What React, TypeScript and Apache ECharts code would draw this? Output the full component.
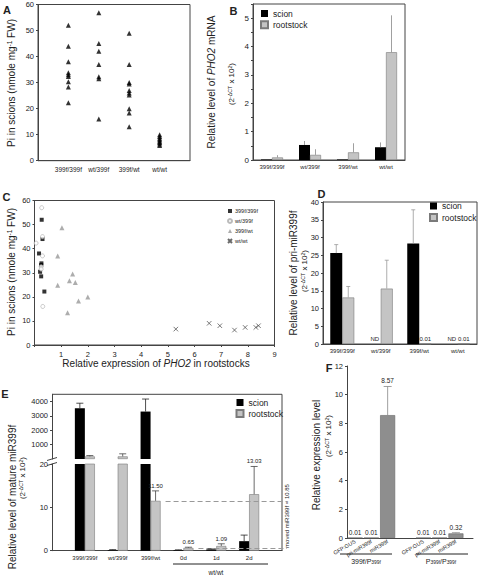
import React, { useEffect, useRef } from 'react';
import * as echarts from 'echarts';

const FONT = '"Liberation Sans", Arial, Helvetica, sans-serif';
const W = 478;
const H = 577;

// ---------- Panel A: Pi in scions ----------
const aGroups = ['399f/399f', 'wt/399f', '399f/wt', 'wt/wt'];
const aPi399f399f = [52, 44, 38, 33.8, 33, 32.3, 30.3, 28.3, 22.3];
const aPiWt399f = [56.8, 45, 42, 37, 32.2, 31.5, 16];
const aPi399fWt = [49, 37, 30, 29.5, 27, 26, 25.2, 20, 18.3, 13];
const aPiWtWt = [10, 9.3, 8.6, 8, 7.5, 7, 6.4, 5.8];

// ---------- Panel B: PHO2 mRNA ----------
const bGroups = ['399f/399f', 'wt/399f', '399f/wt', 'wt/wt'];
const bScion = [0.02, 0.53, 0.02, 0.45];
const bScionErr = [0, 0.14, 0, 0.17];
const bRoot = [0.09, 0.18, 0.27, 3.8];
const bRootErr = [0.08, 0.2, 0.32, 1.3];

// ---------- Panel C: Pi vs PHO2 expression ----------
const cExpr399f399f = [0.27, 0.3, 0.17, 0.26, 0.25, 0.21, 0.25, 0.37];
const cPi399f399f = [52, 44, 38, 33.9, 33.2, 30.4, 28.5, 22.2];
const cExprWt399f = [0.27, 0.3, 0.06, 0.3, 0.25, 0.25, 0.31];
const cPiWt399f = [57, 45, 42.3, 37, 32.5, 31.5, 16];
const cExpr399fWt = [1.03, 0.87, 1.43, 1.31, 1.53, 0.87, 1.65, 2.0, 1.24];
const cPi399fWt = [48.7, 37, 29.5, 26.7, 25.9, 24.8, 18.3, 19.9, 13.4];
const cExprWtWt = [5.3, 6.55, 6.95, 7.5, 7.9, 8.3, 8.4];
const cPiWtWt = [6.6, 9, 8, 6.2, 7.3, 7.3, 8];

// ---------- Panel D: pri-miR399f ----------
const dGroups = ['399f/399f', 'wt/399f', '399f/wt', 'wt/wt'];
const dScion = [25.6, null, 28.3, null];
const dScionErr = [2.4, 0, 9.5, 0];
const dScionLabels = ['', 'ND', '', 'ND'];
const dRoot = [13.1, 15.6, 0.01, 0.01];
const dRootErr = [3.1, 8, 0, 0];
const dRootLabels = ['', '', '0.01', '0.01'];

// ---------- Panel E: mature miR399f ----------
const eGroups = ['399f/399f', 'wt/399f', '399f/wt', '0d', '1d', '2d'];
const eScion = [3530, 0.15, 3300, 0.15, 0.3, 2.2];
const eScionErr = [350, 0.1, 870, 0.05, 0.1, 1.4];
const eRoot = [180, 180, 11.5, 0.65, 1.09, 13.03];
const eRootErr = [60, 180, 2.3, 0.15, 0.5, 6.4];
const eRootLabels = ['', '', '11.50', '0.65', '1.09', '13.03'];
const eMovedLevels = [11.5, 0.65];
const eMovedText = 'moved miR399f = 10.85';
const eBreak = 20;

// ---------- Panel F: expression level ----------
const fLabels = ['GFP:GUS', 'pri-miR399f', 'miR399f', 'GFP:GUS', 'pri-miR399f', 'miR399f'];
const fPositions = [1, 2, 3, 5.2, 6.2, 7.2];
const fValues = [0.01, 0.01, 8.57, 0.01, 0.01, 0.32];
const fErr = [0, 0, 2.0, 0, 0, 0.05];
const fValueLabels = ['0.01', '0.01', '8.57', '0.01', '0.01', '0.32'];

const lbl = (size: number) => ({ fontSize: size, color: '#222', fontFamily: FONT });
const axisLine = { show: true, lineStyle: { color: '#444', width: 1 } };

function errSeries(
  xAxisIndex: number,
  yAxisIndex: number,
  items: number[][],
  color: string,
  capHalf: number,
  labels: string[] | null,
  labelSize: number,
) {
  return {
    type: 'custom',
    xAxisIndex,
    yAxisIndex,
    silent: true,
    z: 6,
    encode: { x: 0, y: 1 },
    dimensions: ['x', 'v', 'err', 'off'],
    data: items,
    renderItem: (params: any, api: any) => {
      const item = items[params.dataIndex];
      const x = item[0];
      const v = item[1];
      const e = item[2];
      const off = item[3];
      const base = api.coord([x, v]);
      const top = api.coord([x, v + e]);
      const cx = base[0] + off;
      const children: any[] = [];
      if (e > 0) {
        children.push({ type: 'line', shape: { x1: cx, y1: base[1], x2: cx, y2: top[1] }, style: { stroke: color, lineWidth: 0.8 } });
        if (capHalf > 0) {
          children.push({ type: 'line', shape: { x1: cx - capHalf, y1: top[1], x2: cx + capHalf, y2: top[1] }, style: { stroke: color, lineWidth: 0.8 } });
        }
      }
      const lab = labels ? labels[params.dataIndex] : '';
      if (lab) {
        children.push({
          type: 'text',
          x: cx,
          y: top[1] - 2,
          style: {
            text: lab,
            font: `${labelSize}px ${FONT}`,
            fill: '#222',
            align: 'center',
            verticalAlign: 'bottom',
            textAlign: 'center',
            textVerticalAlign: 'bottom',
          },
        });
      }
      return { type: 'group', children };
    },
  };
}

const rich = (size: number) => ({
  sup: { fontSize: size * 0.65, verticalAlign: 'top', fontFamily: FONT, fill: '#222' },
  i: { fontSize: size, fontStyle: 'italic', fontFamily: FONT, fill: '#222' },
  sub: { fontSize: size * 0.7, verticalAlign: 'bottom', fontFamily: FONT, fill: '#222' },
});

function txt(x: number, y: number, text: string, size: number, opts: any = {}) {
  return {
    type: 'text',
    x,
    y,
    rotation: opts.rotate ? Math.PI / 2 : 0,
    style: {
      text,
      font: `${opts.bold ? 'bold ' : ''}${size}px ${FONT}`,
      fill: '#222',
      align: 'center',
      verticalAlign: 'middle',
      textAlign: 'center',
      textVerticalAlign: 'middle',
      rich: rich(size),
    },
  };
}

function ln(x1: number, y1: number, x2: number, y2: number, color = '#444') {
  return { type: 'line', shape: { x1, y1, x2, y2 }, style: { stroke: color, lineWidth: 1 } };
}

const DCT = '(2{sup|-ΔCT} x 10{sup|2})';

function buildOption() {
  const scionStyle = { color: '#000' };
  const rootStyle = { color: '#c4c4c4', borderColor: '#7a7a7a', borderWidth: 0.6 };

  const aData: number[][] = [];
  [aPi399f399f, aPiWt399f, aPi399fWt, aPiWtWt].forEach((arr, i) => arr.forEach((v) => aData.push([i + 1, v])));
  const zip = (xs: number[], ys: number[]) => xs.map((x, i) => [x, ys[i]]);

  const eScionData = eScion.map((v, i) => [i + 1, v]);
  const eRootData = eRoot.map((v, i) => [i + 1, v]);
  const upper = (v: number, i: number) => [i + 1, v > eBreak ? v : '-'];
  const eBarW = 10;
  const eUnitPx = 230 / 7;
  const eOffset = eBarW / eUnitPx;

  const eUpperScionErr = eScion.map((v, i) => [i + 1, v, eScionErr[i], -eBarW / 2]).filter((d) => d[1] > eBreak);
  const eUpperRootErr = eRoot.map((v, i) => [i + 1, v, eRootErr[i], eBarW / 2]).filter((d) => d[1] > eBreak);
  const eLowerScionErr = eScion.map((v, i) => [i + 1, v, eScionErr[i], -eBarW / 2]).filter((d) => d[1] <= eBreak);
  const eLowerRootIdx = eRoot.map((v, i) => i).filter((i) => eRoot[i] <= eBreak);
  const eLowerRootErr = eLowerRootIdx.map((i) => [i + 1, eRoot[i], eRootErr[i], eBarW / 2]);
  const eLowerRootLabels = eLowerRootIdx.map((i) => eRootLabels[i]);

  const legendText = { fontSize: 8.5, color: '#222', fontFamily: FONT };

  return {
    animation: false,
    backgroundColor: '#fff',
    textStyle: { fontFamily: FONT },
    grid: [
      { left: 38, top: 4.5, width: 152, height: 156.2, show: true, borderColor: '#444', borderWidth: 1 },
      { left: 253, top: 4, width: 152, height: 156, show: true, borderColor: '#444', borderWidth: 1 },
      { left: 34.5, top: 200.5, width: 240, height: 144.5, show: true, borderColor: '#444', borderWidth: 1 },
      { left: 323, top: 202, width: 154, height: 142, show: true, borderColor: '#444', borderWidth: 1 },
      { left: 52, top: 394.3, width: 230, height: 64.7 },
      { left: 52, top: 464, width: 230, height: 86.7 },
      { left: 347, top: 366, width: 126, height: 172 },
    ],
    legend: [
      { data: ['scion', 'rootstock'], left: 260, top: 9, orient: 'vertical', itemWidth: 7, itemHeight: 7, itemGap: 2.2, icon: 'rect', padding: 0, selectedMode: false, textStyle: legendText },
      { data: ['399f/399f', 'wt/399f', '399f/wt', 'wt/wt'], left: 227, top: 208, orient: 'vertical', itemWidth: 4, itemHeight: 4, itemGap: 4, padding: 0, selectedMode: false, textStyle: { fontSize: 5.5, color: '#222', fontFamily: FONT, padding: [0, 0, 0, -2] } },
      { data: ['scion', 'rootstock'], left: 429, top: 201.5, orient: 'vertical', itemWidth: 7, itemHeight: 7, itemGap: 2.5, icon: 'rect', padding: 0, selectedMode: false, textStyle: legendText },
      { data: ['scion', 'rootstock'], left: 235.5, top: 398, orient: 'vertical', itemWidth: 7, itemHeight: 7, itemGap: 2, icon: 'rect', padding: 0, selectedMode: false, textStyle: legendText },
    ],
    xAxis: [
      { gridIndex: 0, type: 'value', min: 0, max: 5, interval: 1, axisLine, axisTick: { show: false }, splitLine: { show: false },
        axisLabel: { ...lbl(6.5), margin: 5, customValues: [1, 2, 3, 4], formatter: (v: number) => aGroups[v - 1] ?? '' } },
      { gridIndex: 1, type: 'category', data: bGroups, axisLine, axisTick: { show: false }, axisLabel: { ...lbl(6), margin: 4, interval: 0 } },
      { gridIndex: 2, type: 'value', min: 0, max: 9, interval: 1, axisLine, axisTick: { show: true, length: 2, lineStyle: { color: '#444' } }, splitLine: { show: false },
        axisLabel: { ...lbl(7.5), margin: 5, customValues: [1, 2, 3, 4, 5, 6, 7, 8, 9], formatter: (v: number) => (v === 0 ? '' : String(v)) } },
      { gridIndex: 3, type: 'category', data: dGroups, axisLine, axisTick: { show: false }, axisLabel: { ...lbl(6), margin: 4, interval: 0 } },
      { gridIndex: 4, type: 'value', min: 0, max: 7, interval: 1, show: false },
      { gridIndex: 5, type: 'value', min: 0, max: 7, interval: 1, axisLine, axisTick: { show: false }, splitLine: { show: false },
        axisLabel: { ...lbl(6), margin: 4, customValues: [1, 2, 3, 4, 5, 6], formatter: (v: number) => eGroups[v - 1] ?? '' } },
      { gridIndex: 6, type: 'value', min: 0.5, max: 8.25, axisLine, axisTick: { show: false }, splitLine: { show: false },
        axisLabel: { ...lbl(5.5), margin: 3, rotate: 30, customValues: fPositions, formatter: (v: number) => { const k = fPositions.indexOf(v); return k >= 0 ? fLabels[k] : ''; } } },
    ],
    yAxis: [
      { gridIndex: 0, type: 'value', min: 0, max: 60, interval: 10, axisLine, axisTick: { show: true, length: 2 }, splitLine: { show: false }, axisLabel: { ...lbl(7.5), margin: 4 } },
      { gridIndex: 1, type: 'value', min: 0, max: 5.5, interval: 0.5, axisLine, axisTick: { show: true, length: 2 }, splitLine: { show: false },
        axisLabel: { ...lbl(8), margin: 4, customValues: [0, 1, 2, 3, 4, 5], formatter: (v: number) => (Number.isInteger(v) ? String(v) : '') } },
      { gridIndex: 2, type: 'value', min: 0, max: 60, interval: 10, axisLine, axisTick: { show: true, length: 2 }, splitLine: { show: false }, axisLabel: { ...lbl(7.5), margin: 4 } },
      { gridIndex: 3, type: 'value', min: 0, max: 40, interval: 5, axisLine, axisTick: { show: true, length: 2 }, splitLine: { show: false }, axisLabel: { ...lbl(7.5), margin: 4 } },
      { gridIndex: 4, type: 'value', min: 0, max: 4500, interval: 1000, axisLine, splitLine: { show: false },
        axisTick: { show: true, length: 2, customValues: [1000, 2000, 3000, 4000] },
        axisLabel: { ...lbl(7.5), margin: 4, customValues: [1000, 2000, 3000, 4000], formatter: (v: number) => (v === 0 ? '' : String(v)) } },
      { gridIndex: 5, type: 'value', min: 0, max: eBreak, interval: 10, axisLine, axisTick: { show: true, length: 2 }, splitLine: { show: false }, axisLabel: { ...lbl(7.5), margin: 4 } },
      { gridIndex: 6, type: 'value', min: 0, max: 12, interval: 2, axisLine, axisTick: { show: true, length: 2 }, splitLine: { show: false }, axisLabel: { ...lbl(7.5), margin: 4 } },
    ],
    series: [
      // A
      { name: 'Pi', type: 'scatter', xAxisIndex: 0, yAxisIndex: 0, data: aData, symbol: 'triangle', symbolSize: 5, itemStyle: { color: '#000' } },
      // B
      { name: 'scion', type: 'bar', xAxisIndex: 1, yAxisIndex: 1, data: bScion, barWidth: 11, barGap: '0%', itemStyle: scionStyle },
      { name: 'rootstock', type: 'bar', xAxisIndex: 1, yAxisIndex: 1, data: bRoot, barWidth: 11, barGap: '0%', itemStyle: rootStyle },
      errSeries(1, 1, bScion.map((v, i) => [i, v, bScionErr[i], -5.5]), '#888', 0, null, 6),
      errSeries(1, 1, bRoot.map((v, i) => [i, v, bRootErr[i], 5.5]), '#888', 0, null, 6),
      // C
      { name: '399f/399f', type: 'scatter', xAxisIndex: 2, yAxisIndex: 2, data: zip(cExpr399f399f, cPi399f399f), symbol: 'rect', symbolSize: 4, itemStyle: { color: '#000' } },
      { name: 'wt/399f', type: 'scatter', xAxisIndex: 2, yAxisIndex: 2, data: zip(cExprWt399f, cPiWt399f), symbol: 'circle', symbolSize: 4, itemStyle: { color: '#fff', borderColor: '#aaa', borderWidth: 0.8 } },
      { name: '399f/wt', type: 'scatter', xAxisIndex: 2, yAxisIndex: 2, data: zip(cExpr399fWt, cPi399fWt), symbol: 'triangle', symbolSize: 5, itemStyle: { color: '#999' } },
      { name: 'wt/wt', type: 'scatter', xAxisIndex: 2, yAxisIndex: 2, data: zip(cExprWtWt, cPiWtWt), symbol: 'path://M0 0L10 10M10 0L0 10', symbolSize: 4.5, itemStyle: { color: 'rgba(0,0,0,0)', borderColor: '#444', borderWidth: 0.9 } },
      // D
      { name: 'scion', type: 'bar', xAxisIndex: 3, yAxisIndex: 3, data: dScion.map((v) => (v == null ? '-' : v)), barWidth: 12, barGap: '0%', itemStyle: scionStyle },
      { name: 'rootstock', type: 'bar', xAxisIndex: 3, yAxisIndex: 3, data: dRoot, barWidth: 12, barGap: '0%', itemStyle: rootStyle },
      errSeries(3, 3, dScion.map((v, i) => [i, v ?? 0, dScionErr[i], -6]), '#999', 2, dScionLabels, 6),
      errSeries(3, 3, dRoot.map((v, i) => [i, v, dRootErr[i], 6]), '#999', 2, dRootLabels, 6),
      // E upper
      { name: 'scion', type: 'bar', xAxisIndex: 4, yAxisIndex: 4, data: eScion.map(upper), barWidth: eBarW, barGap: '0%', clip: true, itemStyle: scionStyle },
      { name: 'rootstock', type: 'bar', xAxisIndex: 4, yAxisIndex: 4, data: eRoot.map(upper), barWidth: eBarW, barGap: '0%', clip: true, itemStyle: rootStyle },
      errSeries(4, 4, eUpperScionErr, '#222', 3.5, null, 6),
      errSeries(4, 4, eUpperRootErr, '#444', 3.5, null, 6),
      // E lower
      { name: 'scion', type: 'bar', xAxisIndex: 5, yAxisIndex: 5, data: eScionData, barWidth: eBarW, barGap: '0%', clip: true, itemStyle: scionStyle },
      { name: 'rootstock', type: 'bar', xAxisIndex: 5, yAxisIndex: 5, data: eRootData, barWidth: eBarW, barGap: '0%', clip: true, itemStyle: rootStyle,
        markLine: { silent: true, symbol: ['none', 'none'], label: { show: false }, lineStyle: { type: [5, 3], color: '#999', width: 1 },
          data: [
            [{ coord: [3 + eOffset, eMovedLevels[0]] }, { coord: [7, eMovedLevels[0]] }],
            [{ coord: [4 + eOffset, eMovedLevels[1]] }, { coord: [7, eMovedLevels[1]] }],
          ] } },
      errSeries(5, 5, eLowerScionErr, '#222', 3.5, null, 6),
      errSeries(5, 5, eLowerRootErr, '#444', 3.5, eLowerRootLabels, 6),
      // F
      { name: 'level', type: 'bar', xAxisIndex: 6, yAxisIndex: 6, data: fPositions.map((p, i) => [p, fValues[i]]), barWidth: 15, itemStyle: { color: '#8e8e8e', borderColor: '#666', borderWidth: 0.6 } },
      errSeries(6, 6, fPositions.map((p, i) => [p, fValues[i], fErr[i], 0]), '#888', 4, fValueLabels, 6.5),
    ],
    graphic: {
      elements: [
        // panel letters
        txt(7, 10, 'A', 11, { bold: true }),
        txt(233.5, 11, 'B', 11, { bold: true }),
        txt(6.5, 197, 'C', 11, { bold: true }),
        txt(321.5, 193.5, 'D', 11, { bold: true }),
        txt(5, 394, 'E', 11, { bold: true }),
        txt(329, 368, 'F', 11, { bold: true }),
        // axis titles
        txt(11, 83, 'Pi in scions (nmole mg{sup|-1} FW)', 10, { rotate: true }),
        txt(211, 82, 'Relative level of {i|PHO2} mRNA', 10, { rotate: true }),
        txt(231, 84, DCT, 8, { rotate: true }),
        txt(11, 272, 'Pi in scions (nmole mg{sup|-1} FW)', 10, { rotate: true }),
        txt(156, 363, 'Relative expression of {i|PHO2} in rootstocks', 10),
        txt(293, 273, 'Relative level of pri-miR399f', 10, { rotate: true }),
        txt(304, 271, DCT, 8, { rotate: true }),
        txt(12, 497, 'Relative level of mature miR399f', 10, { rotate: true }),
        txt(22, 478, DCT, 8, { rotate: true }),
        txt(316, 455, 'Relative expression level', 10, { rotate: true }),
        txt(328, 436, DCT, 8, { rotate: true }),
        // E frame + break
        ln(52, 394.3, 282, 394.3),
        ln(282, 394.3, 282, 550.7),
        ln(47, 460.5, 57, 457.5),
        ln(47, 465.5, 57, 462.5),
        txt(287, 516, eMovedText, 6, { rotate: true }),
        // E group
        ln(173, 564, 268, 564, '#222'),
        txt(216, 572, 'wt/wt', 6.5),
        // F groups
        ln(340, 554, 392, 554, '#222'),
        ln(416, 554, 468, 554, '#222'),
        txt(366, 561, '399f/P{sub|399f}', 7),
        txt(441, 561, 'P{sub|399f}/P{sub|399f}', 7),
      ],
    },
  };
}

export default function App() {
  const ref = useRef<HTMLDivElement>(null);
  useEffect(() => {
    document.body.style.margin = '0';
    const chart = echarts.init(ref.current!, undefined, { renderer: 'svg', width: W, height: H });
    chart.setOption(buildOption() as any);
    return () => chart.dispose();
  }, []);
  return <div ref={ref} style={{ width: W, height: H, position: 'absolute', left: 0, top: 0, background: '#fff' }} />;
}
